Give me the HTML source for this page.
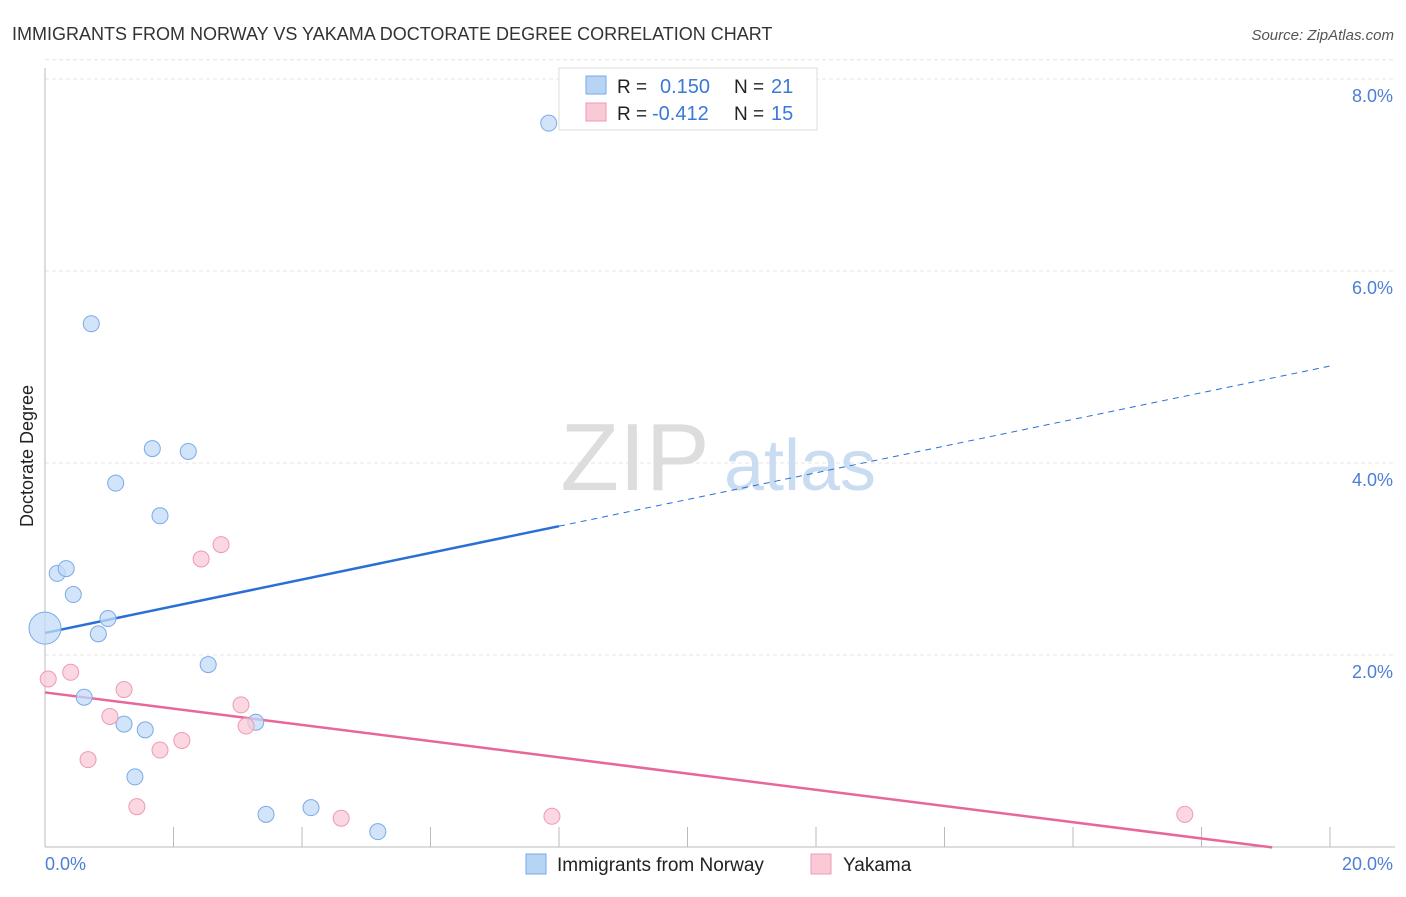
<!DOCTYPE html>
<html><head><meta charset="utf-8">
<style>
body{margin:0;background:#fff;font-family:"Liberation Sans",sans-serif;}
svg text{font-family:"Liberation Sans",sans-serif;}
</style></head>
<body>
<svg width="1406" height="892" xmlns="http://www.w3.org/2000/svg">
<text x="12" y="40" font-size="18" fill="#333">IMMIGRANTS FROM NORWAY VS YAKAMA DOCTORATE DEGREE CORRELATION CHART</text>
<text x="1394" y="40" font-size="15" fill="#555" font-style="italic" text-anchor="end">Source: ZipAtlas.com</text>
<g id="grid"></g>
<g>
<text x="635" y="490" font-size="96" fill="#ddd" font-family="Liberation Serif" text-anchor="middle">ZIP</text>
<text x="800" y="490" font-size="72" fill="#c9dcf2" text-anchor="middle">atlas</text>
</g>
<line x1="45" y1="68" x2="45" y2="847" stroke="#bbb"/>
<line x1="45" y1="847" x2="1395" y2="847" stroke="#bbb"/>
<text transform="translate(33,456) rotate(-90)" font-size="18" fill="#222" text-anchor="middle">Doctorate Degree</text>
<text x="45" y="870" font-size="18" fill="#4a7fd4">0.0%</text>
<text x="1393" y="870" font-size="18" fill="#4a7fd4" text-anchor="end">20.0%</text>
<g id="lines"></g>
<g id="points"></g>
<g>
<rect x="559" y="68" width="258" height="62" fill="#fff" stroke="#ddd"/>
<rect x="586" y="76" width="20" height="18" fill="#b8d4f5" stroke="#7aaae6"/>
<text x="617" y="93" font-size="19" fill="#222">R = </text><text x="660" y="93" font-size="20" fill="#3b78d8">0.150</text>
<text x="734" y="93" font-size="19" fill="#222">N = </text><text x="771" y="93" font-size="20" fill="#3b78d8">21</text>
<rect x="586" y="103" width="20" height="18" fill="#f9c9d6" stroke="#ee9ab2"/>
<text x="617" y="120" font-size="19" fill="#222">R = </text><text x="652" y="120" font-size="20" fill="#3b78d8">-0.412</text>
<text x="734" y="120" font-size="19" fill="#222">N = </text><text x="771" y="120" font-size="20" fill="#3b78d8">15</text>
</g>
<g>
<rect x="526" y="854" width="20" height="20" fill="#b8d4f5" stroke="#7aaae6"/>
<text x="557" y="871" font-size="19" fill="#222">Immigrants from Norway</text>
<rect x="811" y="854" width="20" height="20" fill="#f9c9d6" stroke="#ee9ab2"/>
<text x="843" y="871" font-size="19" fill="#222">Yakama</text>
</g>
</svg>
<script>
const yTicks=[2,4,6,8];
const yTickLabels=["2.0%","4.0%","6.0%","8.0%"];
const xTicks=[2,4,6,8,10,12,14,16,18,20];
const norwayX=[7.84,0.72,1.67,2.23,1.1,1.79,0.19,0.33,0.44,0.98,0.83,0,2.54,0.61,1.23,1.56,3.28,1.4,3.44,4.14,5.18];
const norwayY=[7.54,5.45,4.15,4.12,3.79,3.45,2.85,2.9,2.63,2.38,2.22,2.28,1.9,1.56,1.28,1.22,1.3,0.73,0.34,0.41,0.16];
const yakamaX=[0.05,0.4,1.23,2.43,2.74,1.01,3.05,0.67,1.79,2.13,3.13,1.43,4.61,7.89,17.74];
const yakamaY=[1.75,1.82,1.64,3.0,3.15,1.36,1.48,0.91,1.01,1.11,1.26,0.42,0.3,0.32,0.34];
const norwayTrend=[2.23,5.01];
const yakamaTrend=[1.61,-0.08];
const NS="http://www.w3.org/2000/svg";
const X=v=>45+v*64.25, Y=v=>847-v*96;
const grid=document.getElementById('grid');
yTicks.forEach((t,i)=>{
 const l=document.createElementNS(NS,'line');
 l.setAttribute('x1',45);l.setAttribute('x2',1395);l.setAttribute('y1',Y(t));l.setAttribute('y2',Y(t));
 l.setAttribute('stroke','#e4e4e4');l.setAttribute('stroke-dasharray','4,3');
 
 
 grid.appendChild(l);
 const tx=document.createElementNS(NS,'text');
 tx.setAttribute('x',1393);tx.setAttribute('y',Y(t)+23);tx.setAttribute('font-size','18');tx.setAttribute('fill','#4a7fd4');tx.setAttribute('text-anchor','end');
 tx.textContent=yTickLabels[i];
 
 
 grid.appendChild(tx);
});
const topG=document.createElementNS(NS,'line');
topG.setAttribute('x1',45);topG.setAttribute('x2',1395);topG.setAttribute('y1',Y(8.2));topG.setAttribute('y2',Y(8.2));topG.setAttribute('stroke','#e4e4e4');topG.setAttribute('stroke-dasharray','4,3');


grid.appendChild(topG);
xTicks.forEach(t=>{
 const l=document.createElementNS(NS,'line');
 l.setAttribute('x1',X(t));l.setAttribute('x2',X(t));l.setAttribute('y1',827);l.setAttribute('y2',847);l.setAttribute('stroke','#bbb');
 
 
 grid.appendChild(l);
});
const lines=document.getElementById('lines');
function seg(x1,y1,x2,y2,c,dash,w,name){
 const l=document.createElementNS(NS,'line');
 l.setAttribute('x1',X(x1));l.setAttribute('y1',Y(y1));l.setAttribute('x2',X(x2));l.setAttribute('y2',Y(y2));
 l.setAttribute('stroke',c);l.setAttribute('stroke-width',w);if(dash)l.setAttribute('stroke-dasharray',dash);
 
 
 lines.appendChild(l);
}
const nAt=x=>norwayTrend[0]+(norwayTrend[1]-norwayTrend[0])*x/20;
seg(0,nAt(0),8,nAt(8),'#2a6fd6',null,2.5,'norway-trend-line');
seg(8,nAt(8),20,nAt(20),'#2a6fd6','6,5',1,'norway-trend-extension');
const yEnd=19.1;
const yAt=x=>yakamaTrend[0]+(yakamaTrend[1]-yakamaTrend[0])*x/20;
seg(0,yAt(0),yEnd,yAt(yEnd),'#e8679a',null,2.5,'yakama-trend-line');
const pts=document.getElementById('points');
function dots(xs,ys,fill,stroke,name){
 xs.forEach((x,i)=>{
  const c=document.createElementNS(NS,'circle');
  c.setAttribute('cx',X(x));c.setAttribute('cy',Y(ys[i]));
  c.setAttribute('r',(name==='norway-point'&&x===0)?16:8);
  c.setAttribute('fill',fill);c.setAttribute('stroke',stroke);c.setAttribute('fill-opacity','0.75');
  
  
  pts.appendChild(c);
 });
}
dots(norwayX,norwayY,'#c3dbf7','#7aaae6','norway-point');
dots(yakamaX,yakamaY,'#f9cad8','#ee9ab2','yakama-point');
</script>
</body></html>
